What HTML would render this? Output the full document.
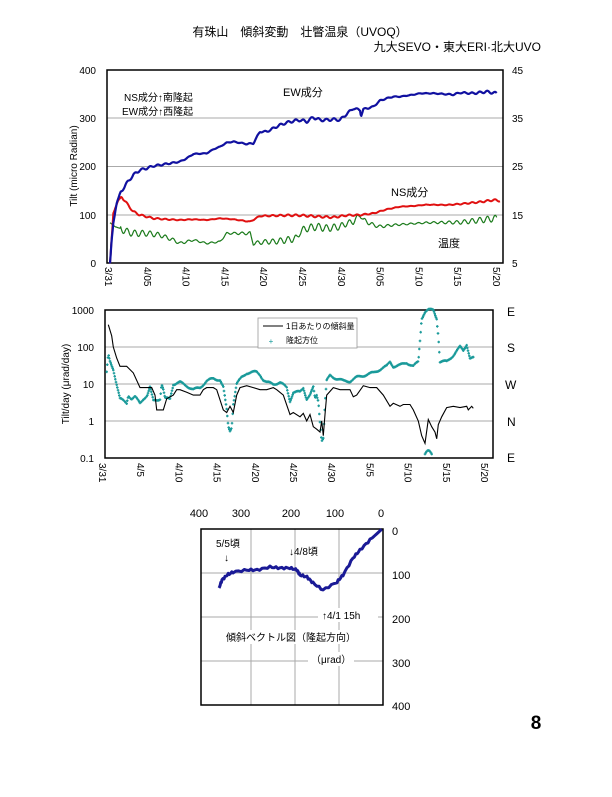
<!DOCTYPE html>
<html><head><meta charset="utf-8"><style>
body{margin:0;background:#fff;}
svg{font-family:"Liberation Sans","Noto Sans CJK JP",sans-serif;}
</style></head><body>
<svg id="s" width="612" height="792" viewBox="0 0 612 792" xmlns="http://www.w3.org/2000/svg">
<rect width="612" height="792" fill="#fff"/>
<text x="300" y="36" font-size="12" text-anchor="middle">有珠山　傾斜変動　壮瞥温泉（UVOQ）</text>
<text x="541" y="51" font-size="12" text-anchor="end">九大SEVO・東大ERI·北大UVO</text>
<text x="536" y="729" font-size="19" font-weight="bold" text-anchor="middle">8</text>

<!-- Chart 1 -->
<g stroke="#aaa" stroke-width="1">
<line x1="107" y1="118" x2="503" y2="118"/><line x1="107" y1="166.5" x2="503" y2="166.5"/><line x1="107" y1="215" x2="503" y2="215"/>
</g>
<rect x="107" y="70" width="396" height="193" fill="none" stroke="#000" stroke-width="1.5"/>
<rect x="115" y="87" width="88" height="30" fill="#fff"/>
<g font-size="10" text-anchor="end"><text x="96" y="74">400</text><text x="96" y="122">300</text><text x="96" y="170">200</text><text x="96" y="219">100</text><text x="96" y="267">0</text></g>
<g font-size="10"><text x="512" y="74">45</text><text x="512" y="122">35</text><text x="512" y="170">25</text><text x="512" y="219">15</text><text x="512" y="267">5</text></g>
<text transform="translate(77,166) rotate(-90)" font-size="10" text-anchor="middle">Tilt (micro Radian)</text>
<g font-size="10" id="xl1"></g>
<text x="124" y="101" font-size="10">NS成分↑南隆起</text>
<text x="122" y="115" font-size="10">EW成分↑西隆起</text>
<text x="283" y="96" font-size="11">EW成分</text>
<text x="391" y="196" font-size="11">NS成分</text>
<text x="438" y="247" font-size="11">温度</text>
<g id="c1"></g>

<!-- Chart 2 -->
<g stroke="#aaa" stroke-width="1">
<line x1="105" y1="347" x2="493" y2="347"/><line x1="105" y1="384" x2="493" y2="384"/><line x1="105" y1="421" x2="493" y2="421"/>
</g>
<rect x="105" y="310" width="388" height="148" fill="none" stroke="#000" stroke-width="1.5"/>
<g font-size="10" text-anchor="end"><text x="94" y="314">1000</text><text x="94" y="351">100</text><text x="94" y="388">10</text><text x="94" y="425">1</text><text x="94" y="462">0.1</text></g>
<g font-size="12"><text x="507" y="316">E</text><text x="507" y="352">S</text><text x="505" y="389">W</text><text x="507" y="426">N</text><text x="507" y="462">E</text></g>
<text transform="translate(69,384) rotate(-90)" font-size="10" text-anchor="middle">Tilt/day (μrad/day)</text>
<g font-size="10" id="xl2"></g>
<g id="c2"></g>
<rect x="258" y="318" width="99" height="30" fill="#fff" stroke="#999" stroke-width="0.8"/>
<line x1="263" y1="326" x2="283" y2="326" stroke="#000" stroke-width="1"/>
<text x="286" y="329" font-size="8">1日あたりの傾斜量</text>
<text x="271" y="344" font-size="8" fill="#199" text-anchor="middle">+</text>
<text x="286" y="343" font-size="8">隆起方位</text>

<!-- Chart 3 -->
<g stroke="#aaa" stroke-width="1">
<line x1="251" y1="529" x2="251" y2="705"/><line x1="295" y1="529" x2="295" y2="705"/><line x1="339" y1="529" x2="339" y2="705"/>
<line x1="201" y1="573" x2="383" y2="573"/><line x1="201" y1="617" x2="383" y2="617"/><line x1="201" y1="661" x2="383" y2="661"/>
</g>
<rect x="201" y="529" width="182" height="176" fill="none" stroke="#000" stroke-width="1.5"/>
<g font-size="11" text-anchor="middle"><text x="199" y="517">400</text><text x="241" y="517">300</text><text x="291" y="517">200</text><text x="335" y="517">100</text><text x="381" y="517">0</text></g>
<g font-size="11"><text x="392" y="535">0</text><text x="392" y="579">100</text><text x="392" y="623">200</text><text x="392" y="667">300</text><text x="392" y="710">400</text></g>
<rect x="318" y="608" width="60" height="14" fill="#fff"/>
<rect x="226" y="630" width="140" height="14" fill="#fff"/>
<rect x="308" y="652" width="46" height="14" fill="#fff"/>
<text x="216" y="547" font-size="10">5/5頃</text>
<text x="224" y="561" font-size="10">↓</text>
<text x="289" y="555" font-size="10">↓4/8頃</text>
<text x="322" y="619" font-size="10">↑4/1 15h</text>
<text x="226" y="641" font-size="10">傾斜ベクトル図（隆起方向）</text>
<text x="311" y="663" font-size="10">（μrad）</text>
<g id="c3"></g>
</svg>
<script>
var NS="http://www.w3.org/2000/svg";
function el(p,t,a){var e=document.createElementNS(NS,t);for(var k in a)e.setAttribute(k,a[k]);p.appendChild(e);return e;}
function interp(pts,x){for(var i=0;i<pts.length-1;i++){if(x>=pts[i][0]&&x<=pts[i+1][0]){var t=(x-pts[i][0])/(pts[i+1][0]-pts[i][0]);return pts[i][1]+t*(pts[i+1][1]-pts[i][1]);}}return pts[pts.length-1][1];}
function wig(pts,amp,step,ox,oy,col,w,g){var d="";var x0=pts[0][0],x1=pts[pts.length-1][0];for(var x=x0;x<=x1;x+=step){var y=interp(pts,x)+(x>x0+30?amp*Math.sin(x/23*2*Math.PI)*(0.6+0.4*Math.sin(x/97)):0);d+=(d?"L":"M")+(ox+x/3).toFixed(1)+","+(oy+y/3).toFixed(1);}el(g,"path",{d:d,fill:"none",stroke:col,"stroke-width":w,"stroke-linejoin":"round"});}
var c1=document.getElementById("c1");
var green=[[150,488],[165,500],[180,505],[200,515],[220,520],[260,520],[300,525],[340,540],[360,550],[400,540],[440,550],[480,545],[500,520],[540,520],[570,520],[580,550],[620,545],[640,545],[680,540],[710,535],[720,515],[740,505],[770,500],[800,505],[840,500],[860,490],[880,485],[900,465],[905,470],[910,480],[940,495],[960,500],[1000,495],[1100,488],[1200,487],[1310,475]];
var red=[[150,610],[160,460],[175,420],[185,410],[200,430],[220,455],[240,465],[280,475],[320,478],[360,480],[400,478],[440,480],[480,475],[520,478],[570,485],[600,468],[640,467],[680,466],[720,466],[780,470],[820,472],[860,466],[900,465],[940,460],[980,448],[1020,440],[1060,438],[1100,434],[1160,435],[1200,432],[1260,426],[1300,420],[1320,422]];
var blue=[[150,610],[155,540],[160,490],[170,430],[180,400],[200,370],[220,345],[240,330],[260,325],[280,318],[300,315],[330,310],[360,305],[380,295],[400,282],[440,280],[460,268],[480,260],[500,248],[520,245],[560,252],[580,250],[600,215],[620,215],[640,205],[660,195],[680,188],[700,183],[720,180],[740,185],[760,172],[780,180],[800,180],[820,178],[840,180],[860,162],[880,145],[900,150],[903,168],[910,148],[940,140],[960,122],[980,115],[1000,110],[1020,110],[1060,104],[1080,100],[1120,100],[1180,104],[1200,98],[1240,100],[1280,95],[1310,100]];
wig(green,11,2,60,60,"#1a7a1a",1.2,c1);
wig(red,3,2,60,60,"#e01010",2,c1);
wig(blue,4,2,60,60,"#1010a0",2.2,c1);
var xl=["3/31","4/05","4/10","4/15","4/20","4/25","4/30","5/05","5/10","5/15","5/20"];
var g1=document.getElementById("xl1");
for(var i=0;i<11;i++){var x=109+i*38.8;el(g1,"text",{transform:"translate("+(x-4)+",267) rotate(90)"}).textContent=xl[i];}
var xl2=["3/31","4/5","4/10","4/15","4/20","4/25","4/30","5/5","5/10","5/15","5/20"];
var g2=document.getElementById("xl2");
for(var i=0;i<11;i++){var x=103+i*38.2;el(g2,"text",{transform:"translate("+(x-4)+",463) rotate(90)"}).textContent=xl2[i];}
function ly(v){return 458-37*(Math.log10(v)+1);}
var c2=document.getElementById("c2");
var teal=[[140,20],[145,60],[150,40],[160,25],[170,10],[180,4],[200,3],[205,5],[215,4],[225,4.5],[240,3],[250,4],[262,5],[270,8],[280,3.5],[300,4],[305,10],[310,7],[315,4],[330,4],[340,10],[360,11],[380,9],[400,7],[420,8],[440,12],[460,14],[480,13],[490,8],[500,2],[505,0.7],[510,0.55],[515,0.7],[520,3],[530,10],[545,15],[560,20],[590,21],[600,18],[610,13],[620,11],[640,10],[660,11],[680,8],[690,3.5],[700,6],[720,6],[730,8],[740,4],[750,5],[760,8],[765,4],[770,5],[775,3.5],[780,1],[785,0.3],[790,0.35],[795,3],[800,12],[810,17],[830,14],[850,12],[870,12],[890,15],[910,17],[940,20],[960,25],[980,30],[990,40],[1000,30],[1020,32],[1040,38],[1060,30],[1075,40],[1080,150],[1085,600],[1095,900],[1105,1000],[1120,1000],[1130,600],[1135,200],[1140,40],[1160,40],[1180,60],[1200,100],[1210,80],[1220,120],[1230,50],[1240,50]];
var tl=teal.map(function(p){return [p[0],Math.log10(p[1])];});
var dd="";
for(var x=140;x<=1240;x+=2){var v=Math.pow(10,interp(tl,x)+0.03*Math.sin(x/7));var px=60+x/3,py=ly(v);dd+="M"+(px-1.3).toFixed(1)+","+py.toFixed(1)+"h2.6M"+px.toFixed(1)+","+(py-1.3).toFixed(1)+"v2.6";}
for(var x=1095;x<=1115;x+=2){var px=60+x/3,py=ly(0.13+0.03*Math.cos((x-1105)/6));dd+="M"+(px-1.3).toFixed(1)+","+py.toFixed(1)+"h2.6M"+px.toFixed(1)+","+(py-1.3).toFixed(1)+"v2.6";}
el(c2,"path",{d:dd,stroke:"#1a9a9a","stroke-width":1.2,fill:"none"});
var blk=[[145,400],[155,200],[160,100],[170,50],[180,30],[200,30],[220,20],[240,8],[260,8],[275,8],[285,5],[290,2],[300,2],[310,2],[320,4],[340,5],[350,7],[360,7],[380,6],[400,5],[420,5],[430,7],[440,8],[460,8],[470,7],[490,2],[500,1.7],[510,2.5],[520,1.7],[530,5],[540,8],[560,9],[580,8],[600,7],[620,7],[640,8],[650,7],[670,5],[690,1.5],[700,1.7],[720,1.3],[730,1.6],[740,1],[750,1.5],[760,0.7],[770,0.6],[780,0.5],[785,1.0],[790,0.4],[795,1.5],[800,5],[820,8],[840,7],[870,7],[880,4.5],[890,5],[910,9],[930,8],[950,8],[970,5],[990,2.5],[1000,3],[1020,2.5],[1030,2.8],[1050,2.8],[1060,2],[1075,1],[1085,0.4],[1095,0.25],[1105,1.1],[1115,0.7],[1125,0.5],[1130,0.33],[1135,0.8],[1145,1.3],[1160,2.3],[1180,2.5],[1200,2.3],[1220,2.5],[1225,2],[1235,2.5],[1240,2.2]];
var bd="";blk.forEach(function(p,i){bd+=(i?"L":"M")+(60+p[0]/3).toFixed(1)+","+ly(p[1]).toFixed(1);});
el(c2,"path",{d:bd,stroke:"#000","stroke-width":1.1,fill:"none"});
// vector
var vp=[[381.7,529.3],[370,540],[360,550],[353,558],[343,575],[337,582],[323,590],[313,583],[307,577],[300,575],[297,570],[290,568],[280,568],[270,567],[257,570],[247,570],[233,572],[227,575],[222,580],[219,588]];
var vd="";var n=0;
for(var i=0;i<vp.length-1;i++){for(var t=0;t<1;t+=0.2){var x=vp[i][0]+t*(vp[i+1][0]-vp[i][0]),y=vp[i][1]+t*(vp[i+1][1]-vp[i][1]);var j=(i>0)?1.0*Math.sin(n*2.3):0;n++;vd+=(vd?"L":"M")+x.toFixed(1)+","+(y+j).toFixed(1);}}
vd+="L219,588";
el(document.getElementById("c3"),"path",{d:vd,fill:"none",stroke:"#1a1a96","stroke-width":3,"stroke-linejoin":"round"});
</script>
</body></html>
